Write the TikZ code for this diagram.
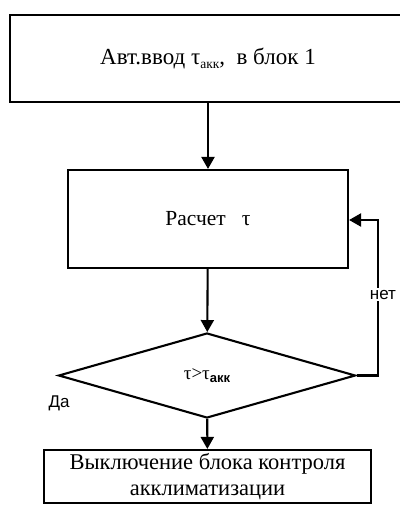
\documentclass[tikz,border=0pt]{standalone}
\usepackage{fontspec}
\setmainfont{Liberation Serif}
\newfontfamily\arialf{Liberation Sans}
\usetikzlibrary{shapes.geometric,arrows.meta}
\newcommand\mysubs[2]{\raisebox{-0.35ex}{\fontsize{#1}{#1}\selectfont #2}}
\begin{document}
\begin{tikzpicture}[x=1pt,y=-1pt,
  box/.style={draw,line width=2.1pt,inner sep=0pt,align=center},
  arr/.style={line width=2.1pt,-{Triangle[length=12pt,width=13pt]}},
  lbl/.style={font=\arialf\fontsize{17}{17}\selectfont,inner sep=2pt}]
\useasboundingbox (0,0) rectangle (399,505);
\node[box,minimum width=396pt,minimum height=87pt,font=\fontsize{23}{23}\selectfont] (b1) at (208,58.5) {\raisebox{-2pt}{Авт.ввод τ\mysubs{13.5}{акк},\ \ в блок 1}};
\node[box,minimum width=280pt,minimum height=98pt,font=\fontsize{21.5}{21.5}\selectfont] (b2) at (208,219) {\raisebox{-2pt}{Расчет\ \ \ τ}};
\node[draw,diamond,line width=2.1pt,inner sep=0pt,minimum width=297pt,minimum height=85pt,font=\fontsize{19}{19}\selectfont] (d) at (207,375.5) {\raisebox{-3pt}{τ>τ\mysubs{13}{\arialf\bfseries акк}}};
\node[box,minimum width=327pt,minimum height=53pt,font=\fontsize{22.5}{26}\selectfont] (b3) at (207.5,476.5) {Выключение блока контроля\\акклиматизации};
\coordinate (c1) at (378,375.5);
\coordinate (c2) at (378,220);
\draw[arr] (b1) -- (b2);
\draw[arr] (b2) -- (d);
\draw[arr] (d) -- (b3);
\draw[arr] (d.east) -- (c1) -- node[lbl,fill=white,pos=0.52,xshift=5pt]{нет} (c2) -- (b2.east |- c2);
\node[lbl] (da) at (59,403) {Да};
\end{tikzpicture}
\end{document}
